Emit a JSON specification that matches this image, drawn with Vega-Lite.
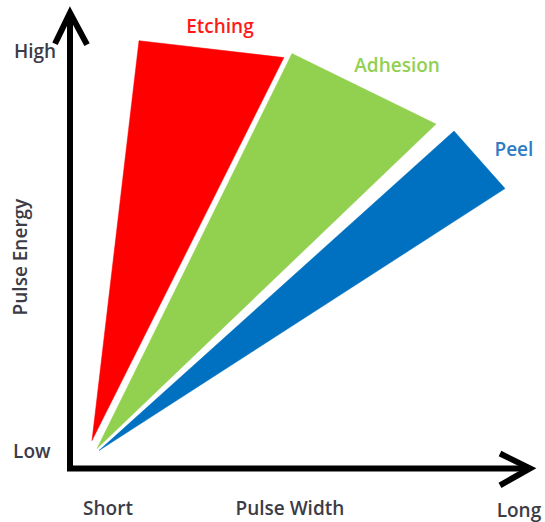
{
  "$schema": "https://vega.github.io/schema/vega-lite/v6.json",
  "width": 545,
  "height": 522,
  "autosize": {"type": "fit", "contains": "padding"},
  "padding": 0,
  "background": "white",
  "view": {"stroke": null},
  "datasets": {
    "shapes": [
      {"shape": "Etching", "order": 1, "px": 4.78, "py": 6.09},
      {"shape": "Etching", "order": 2, "px": 15.0, "py": 93.7},
      {"shape": "Etching", "order": 3, "px": 46.5, "py": 90.0},
      {"shape": "Adhesion", "order": 1, "px": 5.87, "py": 4.35},
      {"shape": "Adhesion", "order": 2, "px": 48.26, "py": 90.87},
      {"shape": "Adhesion", "order": 3, "px": 79.57, "py": 75.43},
      {"shape": "Peel", "order": 1, "px": 6.3, "py": 3.91},
      {"shape": "Peel", "order": 2, "px": 83.48, "py": 73.91},
      {"shape": "Peel", "order": 3, "px": 94.57, "py": 61.3}
    ],
    "axes": [
      {"path": "axis", "order": 1, "px": 0, "py": 99.8},
      {"path": "axis", "order": 2, "px": 0, "py": 0},
      {"path": "axis", "order": 3, "px": 100, "py": 0},
      {"path": "up", "order": 1, "px": -3.26, "py": 93.04},
      {"path": "up", "order": 2, "px": 0, "py": 99.8},
      {"path": "up", "order": 3, "px": 3.7, "py": 92.83},
      {"path": "right", "order": 1, "px": 93.48, "py": 3.26},
      {"path": "right", "order": 2, "px": 100, "py": 0},
      {"path": "right", "order": 3, "px": 93.48, "py": -3.7}
    ],
    "labels": [
      {"label": "High", "px": -7.6, "py": 91.3, "kind": "tick", "angle": 0},
      {"label": "Low", "px": -8.3, "py": 3.6, "kind": "tick", "angle": 0},
      {"label": "Short", "px": 8.26, "py": -8.9, "kind": "tick", "angle": 0},
      {"label": "Pulse Width", "px": 47.8, "py": -8.9, "kind": "tick", "angle": 0},
      {"label": "Long", "px": 97.6, "py": -9.3, "kind": "tick", "angle": 0},
      {"label": "Pulse Energy", "px": -10.6, "py": 46.3, "kind": "tick", "angle": 270},
      {"label": "Etching", "px": 32.6, "py": 96.8, "kind": "Etching", "angle": 0},
      {"label": "Adhesion", "px": 71.1, "py": 88.1, "kind": "Adhesion", "angle": 0},
      {"label": "Peel", "px": 96.5, "py": 69.8, "kind": "Peel", "angle": 0}
    ]
  },
  "layer": [
    {
      "data": {"name": "shapes"},
      "mark": {"type": "line", "interpolate": "linear-closed", "strokeWidth": 0.5, "filled": true},
      "encoding": {
        "x": {"field": "px", "type": "quantitative", "scale": {"domain": [-15.217, 103.261]}, "axis": null},
        "y": {"field": "py", "type": "quantitative", "scale": {"domain": [-11.739, 101.739]}, "axis": null},
        "order": {"field": "order"},
        "detail": {"field": "shape"},
        "fill": {"field": "shape", "type": "nominal", "scale": {"domain": ["Etching", "Adhesion", "Peel"], "range": ["#ff0000", "#92d050", "#0070c0"]}, "legend": null},
        "stroke": {"field": "shape", "type": "nominal", "scale": {"domain": ["Etching", "Adhesion", "Peel"], "range": ["#ff0000", "#92d050", "#0070c0"]}, "legend": null}
      }
    },
    {
      "data": {"name": "axes"},
      "mark": {"type": "line", "color": "black", "strokeWidth": 6, "strokeJoin": "miter", "strokeCap": "butt"},
      "encoding": {
        "x": {"field": "px", "type": "quantitative", "scale": {"domain": [-15.217, 103.261]}, "axis": null},
        "y": {"field": "py", "type": "quantitative", "scale": {"domain": [-11.739, 101.739]}, "axis": null},
        "order": {"field": "order"},
        "detail": {"field": "path"}
      }
    },
    {
      "data": {"name": "labels"},
      "mark": {"type": "text", "font": "Open Sans", "fontSize": 19, "fontWeight": 600, "baseline": "middle", "align": "center"},
      "encoding": {
        "x": {"field": "px", "type": "quantitative", "scale": {"domain": [-15.217, 103.261]}, "axis": null},
        "y": {"field": "py", "type": "quantitative", "scale": {"domain": [-11.739, 101.739]}, "axis": null},
        "text": {"field": "label"},
        "angle": {"field": "angle", "type": "quantitative", "scale": null},
        "color": {"field": "kind", "type": "nominal", "scale": {"domain": ["tick", "Etching", "Adhesion", "Peel"], "range": ["#3c3c46", "#ff1a1a", "#92d050", "#2e7cc4"]}, "legend": null}
      }
    }
  ]
}
